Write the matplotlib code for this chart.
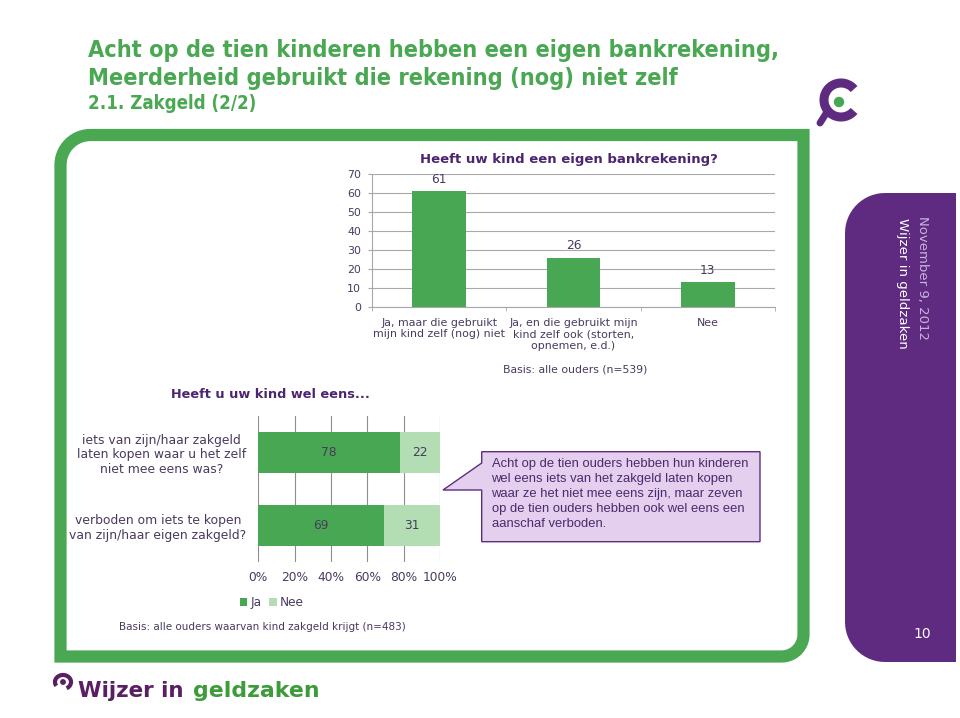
import numpy as np
import matplotlib.pyplot as plt
from matplotlib.patches import Polygon, Arc, Circle

# chart data
top_title = "Heeft uw kind een eigen bankrekening?"
top_cats = ["Ja, maar die gebruikt\nmijn kind zelf (nog) niet",
            "Ja, en die gebruikt mijn\nkind zelf ook (storten,\nopnemen, e.d.)",
            "Nee"]
top_vals = [61, 26, 13]
top_yticks = [0, 10, 20, 30, 40, 50, 60, 70]

bottom_title = "Heeft u uw kind wel eens..."
bottom_cats = ["iets van zijn/haar zakgeld\nlaten kopen waar u het zelf\nniet mee eens was?",
               "verboden om iets te kopen\nvan zijn/haar eigen zakgeld?"]
ja = [78, 69]
nee = [22, 31]
pct_ticks = [0, 20, 40, 60, 80, 100]

W, H = 960, 718
green = '#47A752'
light = '#B3DEB4'
frame_green = '#4AA853'
purple = '#5F2B80'
title_purple = '#4B2570'
txt = '#4A3A5E'
grid = '#A8A8A8'

fig = plt.figure(figsize=(9.6, 7.18), dpi=100)


def fax(x0, y0, x1, y1):
    # pixel box (y measured from top) -> figure rect
    return [x0 / W, 1 - y1 / H, (x1 - x0) / W, (y1 - y0) / H]


def rounded_pts(x0, y0, x1, y1, r_tl=0, r_tr=0, r_br=0, r_bl=0):
    pts = []
    for cx, cy, r, a0 in [(x0 + r_tl, y0 + r_tl, r_tl, 180), (x1 - r_tr, y0 + r_tr, r_tr, 270),
                          (x1 - r_br, y1 - r_br, r_br, 0), (x0 + r_bl, y1 - r_bl, r_bl, 90)]:
        t = np.radians(np.linspace(a0, a0 + 90, 16))
        pts += list(zip(cx + r * np.cos(t), cy + r * np.sin(t)))
    return pts


bg = fig.add_axes([0, 0, 1, 1])
bg.set_xlim(0, W)
bg.set_ylim(H, 0)
bg.axis('off')

# slide title
bg.text(88, 57, "Acht op de tien kinderen hebben een eigen bankrekening,", color=frame_green,
        fontsize=16.85, fontweight='bold', fontstretch='condensed', va='baseline')
bg.text(88, 85, "Meerderheid gebruikt die rekening (nog) niet zelf", color=frame_green,
        fontsize=16.85, fontweight='bold', fontstretch='condensed', va='baseline')
bg.text(88, 109, "2.1. Zakgeld (2/2)", color=frame_green,
        fontsize=13.4, fontweight='bold', fontstretch='condensed', va='baseline')

# green frame
bg.add_patch(Polygon(rounded_pts(60.5, 135, 803.5, 656.5, r_tl=30, r_br=22), closed=True,
                     fill=False, edgecolor=frame_green, lw=8.8, joinstyle='miter'))

# purple side panel
bg.add_patch(Polygon(rounded_pts(845, 193, 956, 662, r_tl=40, r_bl=40), closed=True,
                     facecolor=purple, edgecolor='none'))
bg.text(923, 216, "November 9, 2012", rotation=270, ha='center', va='top', color='#C9B4DD', fontsize=9.5)
bg.text(902, 218, "Wijzer in geldzaken", rotation=270, ha='center', va='top', color='white', fontsize=9.6)
bg.text(922, 634, "10", ha='center', va='center', color='white', fontsize=10)

# logo top right
bg.add_patch(Arc((841, 100), 34, 34, theta1=40, theta2=320, color=purple, lw=6.5))
bg.plot([827, 820], [112, 123], color=purple, lw=5, solid_capstyle='round')
bg.add_patch(Circle((839, 102), 4.5, color=green))

# logo bottom left
bg.add_patch(Arc((63, 682), 16, 14, theta1=150, theta2=420, color='#5A1E63', lw=3))
bg.add_patch(Circle((63, 682), 2.2, color='#5A1E63'))
bg.text(78, 697, "Wijzer in", color='#5A1E63', fontsize=15.4, fontweight='bold', va='baseline')
bg.text(193, 697, "geldzaken", color='#3E9B3A', fontsize=15.8, fontweight='bold', va='baseline')

# top chart
ax1 = fig.add_axes(fax(372, 174.3, 775, 306.7))
x = np.arange(len(top_cats))
bars = ax1.bar(x, top_vals, width=0.4, color=green)
ax1.set_xlim(-0.5, len(top_cats) - 0.5)
ax1.set_ylim(0, 70)
ax1.set_yticks(top_yticks)
ax1.set_axisbelow(True)
ax1.yaxis.grid(True, color=grid, lw=0.8)
ax1.tick_params(axis='y', length=3, color=grid, pad=5, labelsize=7.9, labelcolor=txt)
ax1.set_xticks(x)
ax1.set_xticklabels(top_cats, fontsize=7.9, color=txt)
ax1.set_xticks(np.arange(len(top_cats) + 1) - 0.5, minor=True)
ax1.tick_params(axis='x', which='major', length=0, pad=8)
ax1.tick_params(axis='x', which='minor', length=3, color=grid)
for s in ['top', 'right']:
    ax1.spines[s].set_visible(False)
for s in ['left', 'bottom']:
    ax1.spines[s].set_color(grid)
    ax1.spines[s].set_linewidth(0.8)
ax1.bar_label(bars, padding=4, fontsize=8.8, color=txt)
bg.text(569, 159, top_title, ha='center', va='center', fontsize=9.5, fontweight='bold', color=title_purple)
bg.text(575.5, 370, "Basis: alle ouders (n=539)", ha='center', va='center', fontsize=7.8, color=txt)

# bottom chart
bg.text(270, 394, bottom_title, ha='center', va='center', fontsize=9.3, fontweight='bold', color=title_purple)
ax2 = fig.add_axes(fax(258.3, 416, 440, 562))
y = np.arange(len(bottom_cats))
b1 = ax2.barh(y, ja, height=0.56, color=green, label='Ja')
b2 = ax2.barh(y, nee, left=ja, height=0.56, color=light, label='Nee')
ax2.set_ylim(len(bottom_cats) - 0.5, -0.5)
ax2.set_xlim(0, 100)
ax2.set_xticks(pct_ticks)
ax2.set_xticklabels([f"{v}%" for v in pct_ticks], fontsize=8.8, color=txt)
ax2.set_yticks(y)
ax2.set_yticklabels(bottom_cats, fontsize=8.9, color=txt, linespacing=1.15)
for lbl in ax2.get_yticklabels():
    lbl.set_multialignment('center')
ax2.set_axisbelow(True)
ax2.xaxis.grid(True, color='#8E8E8E', lw=0.8)
ax2.tick_params(axis='x', length=0, pad=6.5)
ax2.tick_params(axis='y', length=0, pad=8.5)
for s in ax2.spines.values():
    s.set_visible(False)
ax2.bar_label(b1, label_type='center', fontsize=8.8, color=txt)
ax2.bar_label(b2, label_type='center', fontsize=8.8, color=txt)
ax2.legend(ncol=2, frameon=False, loc='center', bbox_to_anchor=(272 / W, 1 - 602.7 / H),
           bbox_transform=fig.transFigure, handlelength=0.6, handleheight=0.6,
           handletextpad=0.3, columnspacing=0.6, fontsize=8.7, labelcolor=txt)
bg.text(262.5, 627, "Basis: alle ouders waarvan kind zakgeld krijgt (n=483)", ha='center', va='center',
        fontsize=7.45, color=txt)

# callout
callout = [(481.7, 451.7), (760, 451.7), (760, 541.7), (481.7, 541.7), (481.7, 490),
           (443, 490), (481.7, 463)]
bg.add_patch(Polygon(callout, closed=True, facecolor='#E4CFEE', edgecolor='#5C2F7C', lw=1))
bg.text(491.5, 458, "Acht op de tien ouders hebben hun kinderen\nwel eens iets van het zakgeld laten kopen\n"
        "waar ze het niet mee eens zijn, maar zeven\nop de tien ouders hebben ook wel eens een\n"
        "aanschaf verboden.", ha='left', va='top', fontsize=9.35, family='Liberation Sans',
        color='#4B2A6B', linespacing=1.33)

fig.savefig('out.png', dpi=100)
